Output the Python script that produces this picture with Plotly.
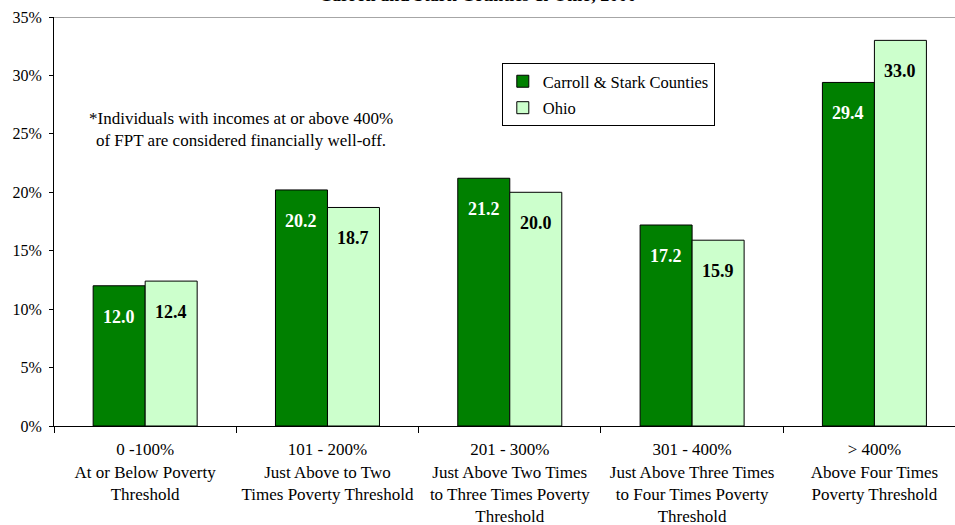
import plotly.graph_objects as go

categories = [
    "0 -100%<br>At or Below Poverty<br>Threshold",
    "101 - 200%<br>Just Above to Two<br>Times Poverty Threshold",
    "201 - 300%<br>Just Above Two Times<br>to Three Times Poverty<br>Threshold",
    "301 - 400%<br>Just Above Three Times<br>to Four Times Poverty<br>Threshold",
    "> 400%<br>Above Four Times<br>Poverty Threshold",
]
carroll_stark = [12.0, 20.2, 21.2, 17.2, 29.4]
ohio = [12.4, 18.7, 20.0, 15.9, 33.0]
series_names = ["Carroll & Stark Counties", "Ohio"]
y_ticks = [0, 5, 10, 15, 20, 25, 30, 35]
y_tick_labels = [f"{v}%" for v in y_ticks]
title_text = "Carroll and Stark Counties & Ohio, 2000"
note_text = "*Individuals with incomes at or above 400%<br>of FPT are considered financially well-off."

FONT = "Liberation Serif"
DARK = "#008000"
LIGHT = "#CCFFCC"

fig = go.Figure()
fig.add_trace(go.Bar(
    x=categories, y=carroll_stark, name=series_names[0], legendgroup="a",
    marker=dict(color=DARK, line=dict(color="black", width=1)),
))
fig.add_trace(go.Bar(
    x=categories, y=ohio, name=series_names[1], legendgroup="b",
    marker=dict(color=LIGHT, line=dict(color="black", width=1)),
))

# value labels inside bar tops
for vals, shift, col in [(carroll_stark, -26, "white"), (ohio, 26, "black")]:
    for cat, v in zip(categories, vals):
        fig.add_annotation(
            x=cat, y=v, xref="x", yref="y", text=f"<b>{v:.1f}</b>",
            showarrow=False, xshift=shift, yshift=-19, yanchor="top",
            font=dict(size=18, family=FONT, color=col),
        )

fig.update_layout(
    width=955, height=525,
    margin=dict(l=54, r=0, t=17, b=99),
    paper_bgcolor="white", plot_bgcolor="white",
    font=dict(family=FONT, size=16, color="black"),
    barmode="group", bargap=0.4295, bargroupgap=0,
    legend=dict(
        x=0.497, y=0.8875, xanchor="left", yanchor="top",
        bordercolor="black", borderwidth=1, bgcolor="white",
        font=dict(size=16.5, family=FONT), itemwidth=30,
        tracegroupgap=2,
    ),
    showlegend=True,
)
fig.update_yaxes(
    range=[0, 35], tickvals=y_ticks, ticktext=y_tick_labels,
    showgrid=False, showline=True, linecolor="black", linewidth=1,
    ticks="outside", ticklen=4, tickcolor="black", zeroline=False,
    tickfont=dict(size=16), ticklabelstandoff=4,
)
fig.update_xaxes(
    range=[-0.5, 4.442],
    showgrid=False, showline=True, linecolor="black", linewidth=1,
    ticks="outside", tickson="boundaries", ticklen=6, tickcolor="black",
    tickfont=dict(size=17), tickangle=0, ticklabelstandoff=8,
)
fig.add_shape(type="line", xref="paper", yref="y", x0=0, x1=1, y0=35, y1=35,
              line=dict(color="#888888", width=1.5))
fig.add_annotation(
    text=note_text, xref="paper", yref="paper", x=0.208, y=0.725,
    showarrow=False, font=dict(size=17, family=FONT), align="center",
    xanchor="center", yanchor="middle",
)
fig.add_annotation(
    text=f"<b>{title_text}</b>", xref="paper", yref="paper",
    x=(477.5 - 54) / 901, y=1, yshift=10, xanchor="center", yanchor="bottom",
    showarrow=False, font=dict(size=18, family=FONT),
)

fig.write_html("out.html", config={"displayModeBar": False},
               post_script="document.body.style.margin='0';")
